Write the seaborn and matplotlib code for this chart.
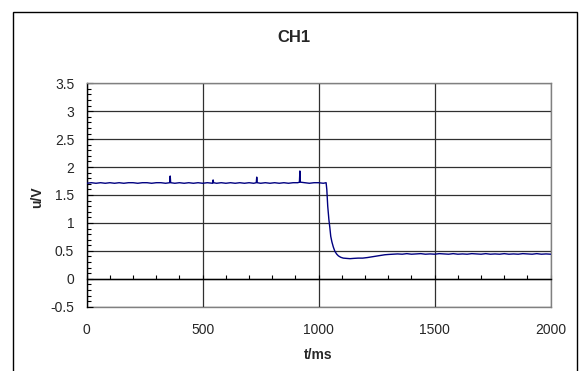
import matplotlib
matplotlib.use("Agg")
import matplotlib.pyplot as plt
from matplotlib.patches import Rectangle
from matplotlib.ticker import MultipleLocator
import pandas as pd
import seaborn as sns

# Channel 1 voltage trace, time in ms and voltage in V
time_ms = [
    0, 20, 40, 60, 80, 100, 120, 140, 160, 180, 200, 220, 240, 260, 280, 300,
    320, 340, 358, 360, 362, 380, 400, 420, 440, 460, 480, 500, 520, 543, 545,
    547, 560, 580, 600, 620, 640, 660, 680, 700, 720, 731, 733, 735, 750, 770,
    790, 810, 830, 850, 870, 890, 910, 917, 919, 921, 940, 960, 980, 1000,
    1020, 1032,
    1035, 1039, 1044, 1048, 1052, 1057, 1063, 1070, 1078, 1085, 1095, 1106,
    1120, 1135, 1150, 1170, 1190, 1210, 1225, 1240, 1255, 1270, 1285, 1300,
    1320, 1340, 1360, 1380, 1400, 1420, 1440, 1460, 1480, 1500, 1520, 1540,
    1560, 1580, 1600, 1620, 1640, 1660, 1680, 1700, 1720, 1740, 1760, 1780,
    1800, 1820, 1840, 1860, 1880, 1900, 1920, 1940, 1960, 1980, 2000,
]
volts = [
    1.71, 1.72, 1.71, 1.72, 1.71, 1.72, 1.71, 1.72, 1.71, 1.72, 1.72, 1.71,
    1.72, 1.72, 1.71, 1.72, 1.72, 1.71, 1.72, 1.84, 1.72, 1.71, 1.72, 1.71,
    1.72, 1.71, 1.72, 1.71, 1.72, 1.71, 1.77, 1.72, 1.71, 1.72, 1.71, 1.72,
    1.71, 1.72, 1.71, 1.72, 1.71, 1.72, 1.82, 1.72, 1.71, 1.72, 1.71, 1.72,
    1.71, 1.72, 1.71, 1.72, 1.72, 1.73, 1.93, 1.73, 1.72, 1.71, 1.72, 1.72,
    1.71, 1.72,
    1.60, 1.30, 1.06, 0.92, 0.76, 0.66, 0.57, 0.49, 0.44, 0.41, 0.385, 0.37,
    0.365, 0.36, 0.365, 0.37, 0.37, 0.38, 0.39, 0.40, 0.41, 0.42, 0.43, 0.435,
    0.44, 0.445, 0.44, 0.45, 0.44, 0.445, 0.45, 0.44, 0.445, 0.44, 0.45,
    0.445, 0.44, 0.45, 0.44, 0.445, 0.44, 0.45, 0.445, 0.44, 0.45, 0.44,
    0.445, 0.44, 0.45, 0.44, 0.445, 0.44, 0.45, 0.445, 0.44, 0.45, 0.44,
    0.445, 0.44,
]

x_ticks = [0, 500, 1000, 1500, 2000]
y_ticks = [-0.5, 0, 0.5, 1, 1.5, 2, 2.5, 3, 3.5]

sns.set_style("white")
plt.rcParams["font.family"] = ["Liberation Sans", "DejaVu Sans"]

df = pd.DataFrame({"t": time_ms, "u": volts})

fig = plt.figure(figsize=(5.81, 3.71), dpi=100)
ax = fig.add_axes([0.1492, 0.1733, 0.7986, 0.6022])

sns.lineplot(data=df, x="t", y="u", ax=ax, color="#000080", linewidth=1.0,
             estimator=None, sort=False, zorder=5)

ax.set_xlim(0, 2000)
ax.set_ylim(-0.5, 3.5)
ax.set_yticks(y_ticks)
ax.set_yticklabels([f"{v:g}" for v in y_ticks], fontsize=10)
ax.yaxis.set_minor_locator(MultipleLocator(0.1))
ax.tick_params(axis="y", which="major", direction="in", length=4,
               width=0.8, color="black", pad=9, left=True)
ax.tick_params(axis="y", which="minor", direction="in", length=3,
               width=0.8, color="black", left=True)

# x axis crosses at u = 0 with small inward ticks
ax.spines["bottom"].set_position(("data", 0))
ax.spines["bottom"].set_color("black")
ax.spines["bottom"].set_linewidth(1.0)
ax.set_xticks(x_ticks)
ax.xaxis.set_minor_locator(MultipleLocator(100))
ax.tick_params(axis="x", which="both", direction="in", length=3,
               width=0.8, color="black", bottom=True, labelbottom=False)

# tick labels along the lower plot edge
sec = ax.secondary_xaxis(0.0)
sec.set_xticks(x_ticks)
sec.set_xticklabels([str(v) for v in x_ticks], fontsize=10)
sec.tick_params(length=0, pad=12)
sec.spines["bottom"].set_color("#808080")
sec.spines["bottom"].set_linewidth(1.0)

ax.spines["left"].set_color("black")
ax.spines["left"].set_linewidth(1.0)
for side in ("top", "right"):
    ax.spines[side].set_visible(True)
    ax.spines[side].set_color("#808080")
    ax.spines[side].set_linewidth(1.0)

ax.grid(True, which="major", color="#303030", linewidth=0.9)
ax.set_axisbelow(True)

ax.set_xlabel("")
ax.set_ylabel("")
fig.text(0.547, 0.043, "t/ms", ha="center", va="center",
         fontsize=10, fontweight="bold")
fig.text(0.064, 0.468, "u/V", ha="center", va="center", rotation=90,
         fontsize=10, fontweight="bold")
fig.text(0.5065, 0.9, "CH1", ha="center", va="center",
         fontsize=12, fontweight="bold")

# chart border
fig.patches.append(Rectangle((0.0219, -0.1), 0.9707, 1.0685,
                             transform=fig.transFigure, fill=False,
                             edgecolor="black", linewidth=1.0))

fig.savefig("out.png", dpi=100)
